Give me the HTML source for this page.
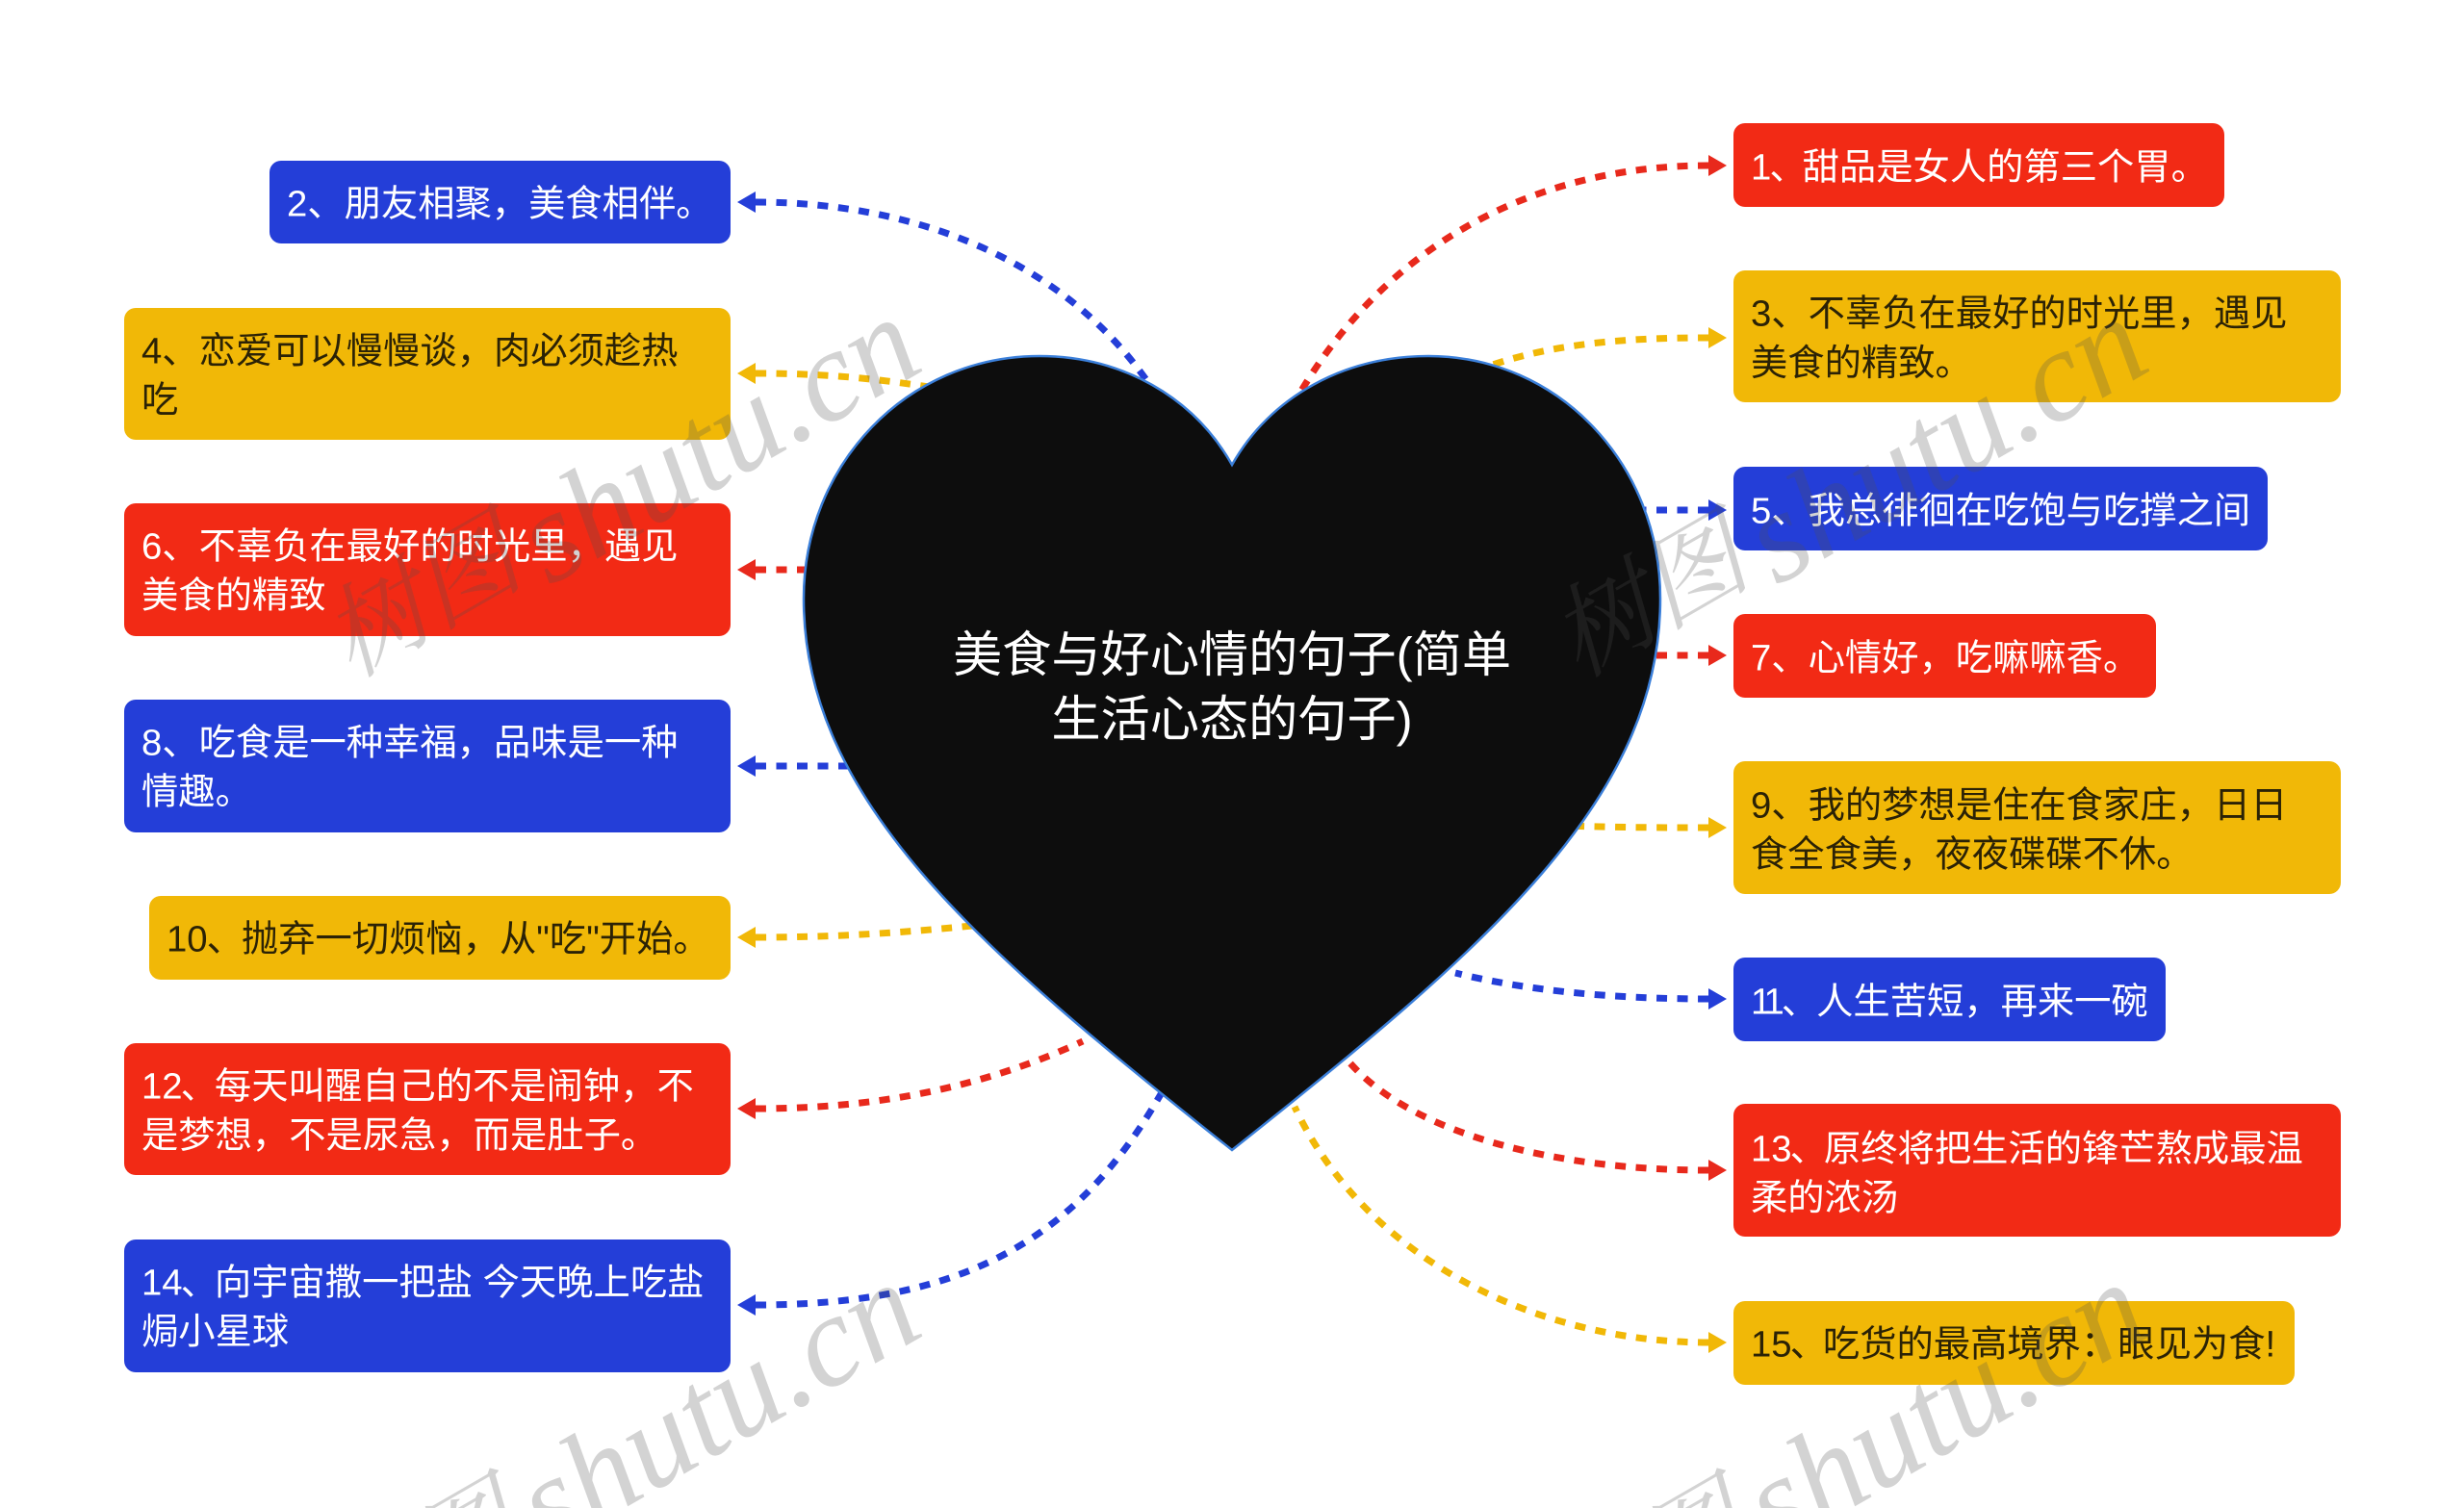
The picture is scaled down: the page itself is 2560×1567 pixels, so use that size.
<!DOCTYPE html>
<html><head><meta charset="utf-8"><style>
html,body{margin:0;padding:0;background:#fff;width:2560px;height:1567px;overflow:hidden}
svg{display:block;overflow:hidden}
.t{font-family:"Liberation Sans","Noto Sans CJK SC",sans-serif;font-size:38.3px}
.w{fill:#fff}.k{fill:#2b2206}
.c{fill:none;stroke-width:7;stroke-dasharray:11 10.5}
.m{font-family:"Liberation Serif","Noto Serif CJK SC",serif;font-style:italic;fill:rgba(78,78,78,.25)}
</style></head><body>
<svg width="2560" height="1567" viewBox="0 0 2560 1567" xmlns="http://www.w3.org/2000/svg">
<rect width="2560" height="1567" fill="#fff"/>
<g fill="#243ed8">
<rect x="280" y="167" width="479" height="86" rx="12"/>
<rect x="129" y="727" width="630" height="138" rx="12"/>
<rect x="129" y="1288" width="630" height="138" rx="12"/>
<rect x="1801" y="485" width="555" height="87" rx="12"/>
<rect x="1801" y="995" width="449" height="87" rx="12"/>
</g>
<g fill="#f1b807">
<rect x="129" y="320" width="630" height="137" rx="12"/>
<rect x="155" y="931" width="604" height="87" rx="12"/>
<rect x="1801" y="281" width="631" height="137" rx="12"/>
<rect x="1801" y="791" width="631" height="138" rx="12"/>
<rect x="1801" y="1352" width="583" height="87" rx="12"/>
</g>
<g fill="#f22a15">
<rect x="129" y="523" width="630" height="138" rx="12"/>
<rect x="129" y="1084" width="630" height="137" rx="12"/>
<rect x="1801" y="128" width="510" height="87" rx="12"/>
<rect x="1801" y="638" width="439" height="87" rx="12"/>
<rect x="1801" y="1147" width="631" height="138" rx="12"/>
</g>
<g class="t">
<text class="w" x="298" y="224.5">2、朋友相聚，美食相伴。</text>
<text class="k" x="147" y="377.5">4、恋爱可以慢慢谈，肉必须趁热</text>
<text class="k" x="147" y="428.5">吃</text>
<text class="w" x="147" y="580.5">6、不辜负在最好的时光里，遇见</text>
<text class="w" x="147" y="631.5">美食的精致</text>
<text class="w" x="147" y="784.5">8、吃食是一种幸福，品味是一种</text>
<text class="w" x="147" y="835.5">情趣。</text>
<text class="k" x="173" y="988.5">10<tspan dx="-1">、</tspan><tspan dx="-2">抛弃一切烦恼，从"吃"开始。</tspan></text>
<text class="w" x="147" y="1141.5">12<tspan dx="-2">、</tspan><tspan dx="-3">每天叫醒自己的不是闹钟，不</tspan></text>
<text class="w" x="147" y="1192.5">是梦想，不是尿急，而是肚子。</text>
<text class="w" x="147" y="1345.5">14<tspan dx="-2">、</tspan><tspan dx="-3">向宇宙撒一把盐 今天晚上吃盐</tspan></text>
<text class="w" x="147" y="1396.5">焗小星球</text>
<text class="w" x="1819" y="186.5">1<tspan dx="-2">、</tspan><tspan dx="-4">甜品是女人的第三个胃。</tspan></text>
<text class="k" x="1819" y="338.5">3、不辜负在最好的时光里，遇见</text>
<text class="k" x="1819" y="390">美食的精致。</text>
<text class="w" x="1819" y="543.5">5、我总徘徊在吃饱与吃撑之间</text>
<text class="w" x="1819" y="696.5">7、心情好，吃嘛嘛香。</text>
<text class="k" x="1819" y="849.5">9、我的梦想是住在食家庄，日日</text>
<text class="k" x="1819" y="900.5">食全食美，夜夜碟碟不休。</text>
<text class="w" x="1819" y="1053.5">1<tspan dx="-5">1</tspan><tspan dx="-3">、</tspan><tspan dx="-2">人生苦短，再来一碗</tspan></text>
<text class="w" x="1819" y="1206.5">13<tspan dx="-2">、</tspan><tspan dx="-3">原终将把生活的锋芒熬成最温</tspan></text>
<text class="w" x="1819" y="1257.5">柔的浓汤</text>
<text class="k" x="1819" y="1409.5">15<tspan dx="-2">、</tspan><tspan dx="-4">吃货的最高境界：眼见为食!</tspan></text>
</g>
<g class="c" stroke="#243ed8">
<path d="M785 210C950 210 1110 270 1200 408"/>
<path d="M785 796H900"/>
<path d="M785 1356C1000 1356 1120 1290 1210 1130"/>
<path d="M1775 530H1700"/>
<path d="M1775 1038C1700 1038 1600 1033 1512 1011"/>
</g>
<g class="c" stroke="#f1b807">
<path d="M785 388C850 388 900 392 965 402"/>
<path d="M785 974C860 974 930 970 1010 962"/>
<path d="M1775 351C1700 351 1620 355 1548 380"/>
<path d="M1775 860C1730 860 1680 860 1630 858"/>
<path d="M1775 1395C1600 1395 1420 1310 1345 1150"/>
</g>
<g class="c" stroke="#e8291c">
<path d="M785 592H850"/>
<path d="M785 1152C880 1152 1000 1140 1125 1082"/>
<path d="M1775 172C1600 172 1440 250 1345 418"/>
<path d="M1775 681H1700"/>
<path d="M1775 1216C1620 1216 1470 1180 1403 1105"/>
</g>
<g fill="#243ed8">
<path d="M766 210l19-11v22z"/><path d="M766 796l19-11v22z"/><path d="M766 1356l19-11v22z"/>
<path d="M1794 530l-19-11v22z"/><path d="M1794 1038l-19-11v22z"/>
</g>
<g fill="#f1b807">
<path d="M766 388l19-11v22z"/><path d="M766 974l19-11v22z"/>
<path d="M1794 351l-19-11v22z"/><path d="M1794 860l-19-11v22z"/><path d="M1794 1395l-19-11v22z"/>
</g>
<g fill="#e8291c">
<path d="M766 592l19-11v22z"/><path d="M766 1152l19-11v22z"/>
<path d="M1794 172l-19-11v22z"/><path d="M1794 681l-19-11v22z"/><path d="M1794 1216l-19-11v22z"/>
</g>
<path d="M1280 483C1240 412 1165 370 1080 370C942 370 835 483 835 622C835 830 1015 985 1280 1195C1545 985 1725 830 1725 622C1725 483 1620 370 1484 370C1397 370 1320 412 1280 483Z" fill="#0d0d0d" stroke="#3b7fd9" stroke-width="2.5"/>
<g font-family="'Liberation Sans','Noto Sans CJK SC',sans-serif" font-size="51.2" fill="#fff" text-anchor="middle">
<text x="1280" y="698">美食与好心情的句子(简单</text>
<text x="1280" y="765">生活心态的句子)</text>
</g>
<g class="m" font-size="135">
<text transform="translate(365 705) rotate(-30)"><tspan font-size="105">树图</tspan><tspan dx="16" dy="20">shutu.cn</tspan></text>
<text transform="translate(1640 705) rotate(-30)"><tspan font-size="105">树图</tspan><tspan dx="16" dy="20">shutu.cn</tspan></text>
<text transform="translate(365 1708) rotate(-30)"><tspan font-size="105">树图</tspan><tspan dx="16" dy="20">shutu.cn</tspan></text>
<text transform="translate(1640 1708) rotate(-30)"><tspan font-size="105">树图</tspan><tspan dx="16" dy="20">shutu.cn</tspan></text>
</g>
</svg>
</body></html>
